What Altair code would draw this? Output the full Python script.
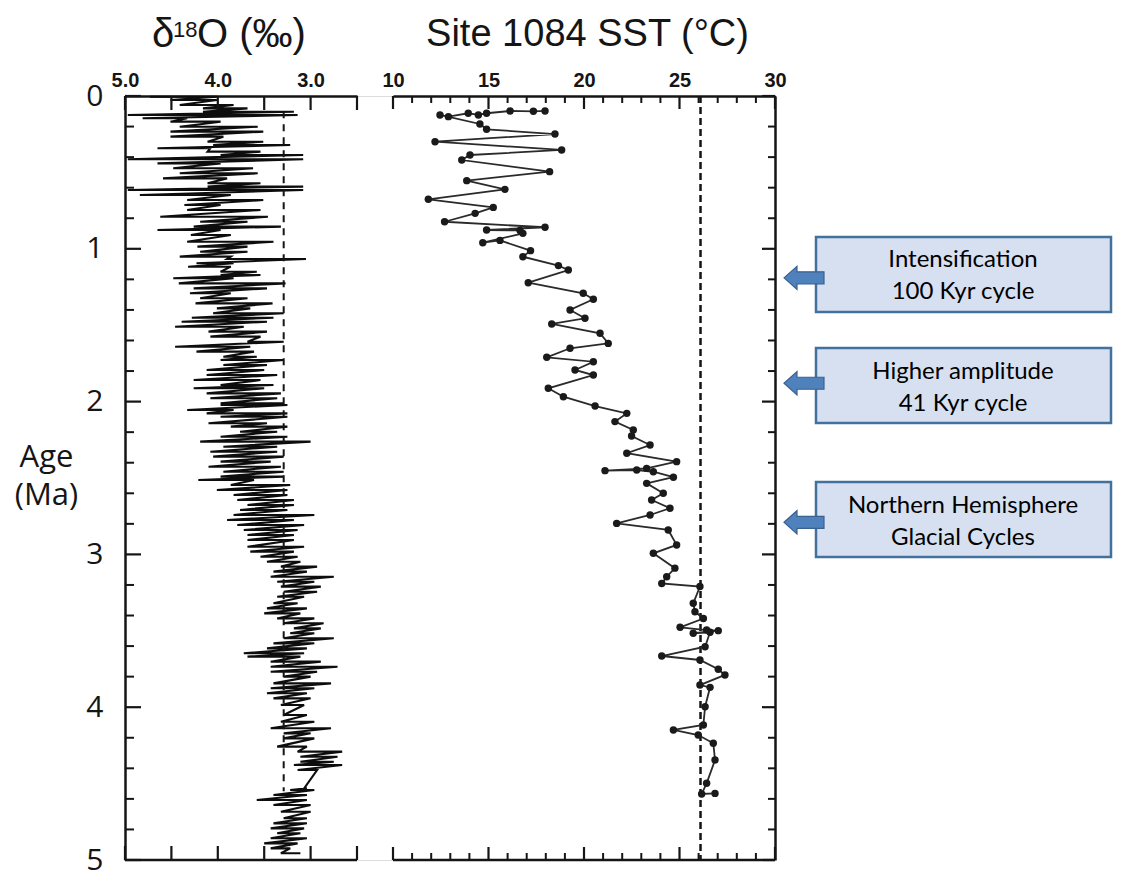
import altair as alt
import pandas as pd

# ---------------- data ----------------
# benthic d18O: each row = age (Ma) with heavy (left) and light (right) excursion
d18o_age = [0.005, 0.026, 0.059, 0.081, 0.103, 0.124, 0.146, 0.168, 0.201, 0.233,
            0.266, 0.299, 0.321, 0.342, 0.364, 0.386, 0.414, 0.441, 0.473, 0.506,
            0.539, 0.571, 0.593, 0.615, 0.648, 0.681, 0.713, 0.746, 0.790, 0.823,
            0.855, 0.877, 0.910, 0.954, 0.986,
            1.019, 1.051, 1.067, 1.095, 1.117, 1.150, 1.171, 1.193, 1.226, 1.259,
            1.291, 1.324, 1.357, 1.390, 1.422, 1.451, 1.477, 1.510, 1.542, 1.575,
            1.608, 1.641, 1.673, 1.706, 1.728, 1.760, 1.793, 1.826, 1.859, 1.891,
            1.913, 1.946, 1.978, 2.011,
            2.022, 2.055, 2.077, 2.099, 2.142, 2.164, 2.197, 2.230, 2.262, 2.295,
            2.328, 2.360, 2.393, 2.426, 2.459, 2.491, 2.513, 2.546, 2.579, 2.611,
            2.644, 2.677, 2.709, 2.742, 2.775, 2.808, 2.840, 2.873, 2.906, 2.950,
            2.982, 3.015,
            3.048, 3.080, 3.113, 3.146, 3.179, 3.211, 3.244, 3.277, 3.320, 3.353,
            3.386, 3.419, 3.451, 3.484, 3.516, 3.549, 3.582, 3.615, 3.647, 3.669,
            3.702, 3.735, 3.768, 3.800, 3.844, 3.876, 3.909, 3.942, 3.986,
            4.051, 4.095, 4.138, 4.171, 4.204, 4.258, 4.291, 4.324, 4.357, 4.378,
            4.411, 4.531, 4.542, 4.575, 4.607, 4.640, 4.684, 4.727, 4.760, 4.793,
            4.825, 4.858, 4.891, 4.924, 4.956]
d18o_heavy = [4.73, 4.51, 4.41, 4.16, 4.16, 4.97, 4.81, 4.51, 4.41, 4.51,
              4.51, 4.11, 4.05, 4.65, 4.11, 3.97, 4.97, 4.65, 4.48, 4.41,
              4.59, 4.11, 4.11, 4.97, 4.84, 4.33, 4.36, 4.33, 4.62, 4.19,
              4.26, 4.65, 4.29, 4.33, 4.22,
              4.19, 4.41, 3.90, 4.23, 4.32, 3.97, 3.97, 4.48, 4.42, 4.26,
              4.30, 4.19, 4.24, 4.01, 4.05, 4.28, 4.39, 4.46, 4.10, 4.08,
              3.68, 4.46, 4.23, 3.94, 3.97, 3.94, 4.12, 4.12, 4.26, 3.97,
              4.26, 4.12, 4.08, 3.97,
              3.97, 4.33, 4.12, 3.97, 4.10, 3.86, 3.76, 3.97, 4.19, 3.94,
              4.08, 4.05, 3.97, 4.10, 3.94, 3.97, 4.21, 3.86, 4.01, 3.83,
              3.79, 3.68, 3.76, 3.83, 3.90, 3.79, 3.72, 3.68, 3.68, 3.68,
              3.65, 3.54,
              3.47, 3.32, 3.40, 3.43, 3.36, 3.32, 3.29, 3.36, 3.40, 3.47,
              3.50, 3.36, 3.29, 3.18, 3.22, 3.29, 3.40, 3.47, 3.72, 3.68,
              3.43, 3.43, 3.43, 3.29, 3.40, 3.43, 3.47, 3.40, 3.32,
              3.29, 3.32, 3.43, 3.29, 3.29, 3.36, 3.14, 3.11, 3.11, 3.18,
              3.14, 3.07, 3.22, 3.40, 3.58, 3.40, 3.32, 3.29, 3.40, 3.43,
              3.36, 3.43, 3.50, 3.43, 3.32]
d18o_light = [4.01, 4.01, 3.83, 3.68, 3.18, 3.14, 4.33, 3.97, 3.57, 3.51,
              3.94, 3.51, 3.22, 4.08, 3.54, 3.08, 3.08, 3.97, 3.62, 3.57,
              3.90, 3.54, 3.08, 3.08, 3.86, 3.51, 3.97, 3.54, 3.46, 3.68,
              3.32, 3.97, 3.86, 3.40, 3.68,
              3.68, 3.86, 3.05, 3.83, 3.86, 3.58, 3.54, 3.83, 3.27, 3.47,
              3.86, 3.68, 3.41, 3.65, 3.29, 3.40, 3.47, 3.72, 3.47, 3.54,
              3.29, 3.65, 3.61, 3.58, 3.29, 3.47, 3.50, 3.36, 3.54, 3.40,
              3.50, 3.32, 3.36, 3.29,
              3.25, 3.83, 3.25, 3.25, 3.47, 3.25, 3.36, 3.25, 3.00, 3.36,
              3.36, 3.29, 3.43, 3.32, 3.29, 3.29, 3.61, 3.22, 3.25, 3.25,
              3.18, 3.18, 3.25, 2.96, 3.18, 3.07, 3.14, 3.18, 3.18, 3.07,
              3.18, 3.14,
              3.11, 2.93, 3.04, 2.75, 2.96, 2.89, 2.93, 3.07, 3.14, 3.04,
              3.11, 2.96, 2.86, 2.89, 2.96, 2.75, 2.96, 3.04, 3.07, 3.11,
              2.89, 2.71, 2.93, 3.00, 2.78, 2.96, 3.04, 3.00, 3.07,
              3.04, 2.96, 2.78, 3.00, 2.96, 3.04, 2.66, 2.71, 2.75, 2.66,
              2.93, 3.04, 2.96, 3.04, 3.04, 3.00, 3.00, 3.04, 3.04, 3.07,
              3.11, 3.04, 3.14, 3.22, 3.11]

# Site 1084 alkenone SST, in path order
sst_age = [0.098, 0.100, 0.098, 0.113, 0.124, 0.113, 0.135, 0.124, 0.183, 0.218,
           0.249, 0.299, 0.353, 0.386, 0.419, 0.495, 0.554, 0.611, 0.676, 0.729,
           0.768, 0.823, 0.859, 0.877, 0.880, 0.899, 0.960, 0.945, 1.012, 1.052,
           1.110, 1.139, 1.222, 1.291, 1.330, 1.400, 1.455, 1.492, 1.553, 1.619,
           1.651, 1.710, 1.739, 1.793, 1.826, 1.913, 1.968, 2.029, 2.077, 2.131,
           2.186, 2.225, 2.284, 2.338, 2.393, 2.437, 2.452, 2.448, 2.459, 2.495,
           2.535, 2.600, 2.644, 2.698, 2.742, 2.797, 2.840, 2.938, 2.993, 3.090,
           3.146, 3.190, 3.210, 3.320, 3.375, 3.420, 3.477, 3.495, 3.499, 3.516,
           3.510, 3.604, 3.665, 3.691, 3.752, 3.789, 3.855, 3.870, 3.997, 4.116,
           4.149, 4.182, 4.236, 4.346, 4.498, 4.568, 4.564]
sst_val = [17.96, 17.35, 16.13, 14.90, 14.47, 13.94, 12.90, 12.46, 14.55, 14.90,
           18.48, 12.20, 18.83, 14.03, 13.60, 18.20, 13.86, 15.86, 11.85, 15.25,
           14.30, 12.70, 17.96, 14.90, 16.65, 16.80, 14.70, 15.60, 17.20, 16.80,
           18.66, 19.18, 17.08, 19.96, 20.49, 19.27, 20.05, 18.31, 20.84, 21.27,
           19.27, 18.05, 20.49, 19.53, 20.49, 18.13, 18.92, 20.58, 22.24, 21.62,
           22.58, 22.49, 23.46, 22.24, 24.85, 23.28, 21.10, 22.76, 23.63, 24.68,
           23.28, 24.15, 23.54, 24.50, 23.46, 21.71, 24.41, 24.85, 23.63, 24.76,
           24.33, 24.07, 26.07, 25.72, 25.81, 26.25, 25.03, 26.42, 27.03, 25.72,
           26.60, 26.34, 24.07, 26.07, 27.03, 27.38, 26.07, 26.60, 26.34, 26.25,
           24.68, 25.98, 26.77, 26.86, 26.42, 26.16, 26.86]

d18o_ref = 3.29          # dashed reference line, left panel
d18o_ref_ages = [0.10, 4.55]
sst_ref = 26.1           # dashed reference line, right panel
sst_ref_ages = [0.0, 5.0]

# axis ticks / labels
d18o_ticks = [5.0, 4.5, 4.0, 3.5, 3.0, 2.5]
d18o_labels = [5.0, 4.0, 3.0]
sst_minor = [11, 12, 13, 14, 16, 17, 18, 19, 21, 22, 23, 24, 26, 27, 28, 29]
sst_major = [10, 15, 20, 25, 30]
age_major = [0, 1, 2, 3, 4, 5]
age_minor = [0.2, 0.4, 0.6, 0.8, 1.2, 1.4, 1.6, 1.8, 2.2, 2.4, 2.6, 2.8,
             3.2, 3.4, 3.6, 3.8, 4.2, 4.4, 4.6, 4.8]

# left panel title pieces (delta, superscript 18, rest)
title_parts = ["δ", "18", "O (‰)"]

# annotation boxes
ann_text = ["Intensification\n100 Kyr cycle",
            "Higher amplitude\n41 Kyr cycle",
            "Northern Hemisphere\nGlacial Cycles"]
ann_arrow_age = [1.19, 1.88, 2.79]
ann_top = [0.923, 1.649, 2.526]
ann_bottom = [1.414, 2.140, 3.017]
ann_mid = [1.168, 1.895, 2.772]

# ---------------- tables ----------------
rows = []
for i, (a, h, l) in enumerate(zip(d18o_age, d18o_heavy, d18o_light)):
    rows.append({"age": a, "val": h, "idx": 2 * i})
    rows.append({"age": a, "val": l, "idx": 2 * i + 1})
d18o_df = pd.DataFrame(rows)
sst_df = pd.DataFrame({"age": sst_age, "val": sst_val, "idx": list(range(len(sst_age)))})
ann_df = pd.DataFrame({"label": ann_text, "age": ann_arrow_age, "top": ann_top,
                       "bottom": ann_bottom, "mid": ann_mid})

W, H = 650, 764
INK = "#151515"
AXFONT = "Liberation Sans"

yscale = alt.Scale(domain=[0, 5], reverse=True, nice=False, zero=False)
lx_scale = alt.Scale(domain=[5.0, 2.5], range=[0, 232], nice=False, zero=False)
rx_scale = alt.Scale(domain=[10, 30], range=[268, 650], nice=False, zero=False)

lx_axis = alt.Axis(orient="top", values=d18o_labels, format=".1f", ticks=False, tickSize=0,
                   domain=True, domainColor=INK, domainWidth=2.5, grid=False,
                   labelFont=AXFONT, labelFontSize=20, labelFontWeight="bold",
                   labelColor=INK, labelPadding=6, labelFlush=False, title="")
ly_axis = alt.Axis(orient="left", values=age_major, format="d", ticks=False, tickSize=0,
                   domain=True, domainColor=INK, domainWidth=2.5, grid=False,
                   labelFont="Open Sans", labelFontSize=30, labelColor=INK,
                   labelPadding=22, labelFlush=False,
                   title=["Age", "(Ma)"], titleFont="Open Sans", titleFontSize=31,
                   titleFontWeight="normal", titleColor=INK, titleAngle=0,
                   titleAlign="center", titleBaseline="alphabetic",
                   titleX=-79, titleY=370, titleLineHeight=38)
rx_axis = alt.Axis(orient="top", values=sst_major, format="d", ticks=False, tickSize=0,
                   domain=True, domainColor=INK, domainWidth=2.5, grid=False,
                   labelFont=AXFONT, labelFontSize=20, labelFontWeight="bold",
                   labelColor=INK, labelPadding=6, labelFlush=False,
                   title="Site 1084 SST (°C)", titleFont=AXFONT, titleFontSize=38,
                   titleFontWeight="normal", titleColor=INK, titleX=462, titleY=-51,
                   titleBaseline="alphabetic", titleAlign="center")
ry_axis = alt.Axis(orient="right", labels=False, ticks=False, tickSize=0,
                   domain=True, domainColor=INK, domainWidth=2.5, grid=False, title="")


def LX(field):
    return alt.X(field, type="quantitative", scale=lx_scale, axis=lx_axis)


def RX(field):
    return alt.X(field, type="quantitative", scale=rx_scale, axis=rx_axis)


def LY(field):
    return alt.Y(field, type="quantitative", scale=yscale, axis=ly_axis)


def RY(field):
    return alt.Y(field, type="quantitative", scale=yscale, axis=ry_axis)


# ---------------- left panel ----------------
d18o_line = alt.Chart(d18o_df).mark_line(color="#0d0d0d", strokeWidth=2.1).encode(
    x=LX("val"), y=LY("age"), order="idx:Q")

lref_df = pd.DataFrame({"val": [d18o_ref], "a0": [d18o_ref_ages[0]], "a1": [d18o_ref_ages[1]]})
l_ref = alt.Chart(lref_df).mark_rule(color=INK, strokeWidth=2, strokeDash=[7, 6]).encode(
    x=LX("val"), y=LY("a0"), y2="a1")

lframe_df = pd.DataFrame({"v0": [5.0], "v1": [2.5], "age": [5.0]})
l_bottom = alt.Chart(lframe_df).mark_rule(color=INK, strokeWidth=2.5).encode(
    x=LX("v0"), x2="v1", y=LY("age"))

ltick_df = pd.DataFrame({"val": d18o_ticks})
l_top_ticks = alt.Chart(ltick_df).mark_rule(color=INK, strokeWidth=2.2).encode(
    x=LX("val"), y=alt.value(0), y2=alt.value(14))
l_bot_ticks = alt.Chart(ltick_df).mark_rule(color=INK, strokeWidth=2.2).encode(
    x=LX("val"), y=alt.value(H - 14), y2=alt.value(H))

l_minor = alt.Chart(pd.DataFrame({"age": age_minor})).mark_rule(color=INK, strokeWidth=2).encode(
    y=LY("age"), x=alt.value(0), x2=alt.value(9))
l_major = alt.Chart(pd.DataFrame({"age": age_major})).mark_rule(color=INK, strokeWidth=2.2).encode(
    y=LY("age"), x=alt.value(0), x2=alt.value(16))

# title "δ18O (‰)" with a raised, smaller "18"
t1 = alt.Chart(pd.DataFrame({"t": [title_parts[0]]})).mark_text(
    font=AXFONT, fontSize=40, align="left", baseline="alphabetic", color=INK).encode(
    text="t:N", x=alt.value(27), y=alt.value(-49))
t2 = alt.Chart(pd.DataFrame({"t": [title_parts[1]]})).mark_text(
    font=AXFONT, fontSize=22, align="left", baseline="alphabetic", color=INK).encode(
    text="t:N", x=alt.value(48), y=alt.value(-59))
t3 = alt.Chart(pd.DataFrame({"t": [title_parts[2]]})).mark_text(
    font=AXFONT, fontSize=40, align="left", baseline="alphabetic", color=INK).encode(
    text="t:N", x=alt.value(72), y=alt.value(-49))

left = alt.layer(d18o_line, l_ref, l_bottom, l_top_ticks, l_bot_ticks, l_minor, l_major,
                 t1, t2, t3)

# ---------------- right panel ----------------
sst_line = alt.Chart(sst_df).mark_line(color="#2a2a2a", strokeWidth=1.8).encode(
    x=RX("val"), y=RY("age"), order="idx:Q")
sst_pts = alt.Chart(sst_df).mark_circle(color="#1a1a1a", size=55, opacity=1).encode(
    x=RX("val"), y=RY("age"))

rref_df = pd.DataFrame({"val": [sst_ref], "a0": [sst_ref_ages[0]], "a1": [sst_ref_ages[1]]})
r_ref = alt.Chart(rref_df).mark_rule(color=INK, strokeWidth=2.5, strokeDash=[7, 4]).encode(
    x=RX("val"), y=RY("a0"), y2="a1")

rframe_df = pd.DataFrame({"v0": [10], "v1": [30], "age": [5.0]})
r_bottom = alt.Chart(rframe_df).mark_rule(color=INK, strokeWidth=2.5).encode(
    x=RX("v0"), x2="v1", y=RY("age"))

rmin_df = pd.DataFrame({"val": sst_minor})
rmaj_df = pd.DataFrame({"val": sst_major})
r_top_min = alt.Chart(rmin_df).mark_rule(color=INK, strokeWidth=2).encode(
    x=RX("val"), y=alt.value(0), y2=alt.value(7))
r_top_maj = alt.Chart(rmaj_df).mark_rule(color=INK, strokeWidth=2.2).encode(
    x=RX("val"), y=alt.value(0), y2=alt.value(13))
r_bot_min = alt.Chart(rmin_df).mark_rule(color=INK, strokeWidth=2).encode(
    x=RX("val"), y=alt.value(H - 7), y2=alt.value(H))
r_bot_maj = alt.Chart(rmaj_df).mark_rule(color=INK, strokeWidth=2.2).encode(
    x=RX("val"), y=alt.value(H - 13), y2=alt.value(H))

r_minor = alt.Chart(pd.DataFrame({"age": age_minor})).mark_rule(color=INK, strokeWidth=2).encode(
    y=RY("age"), x=alt.value(W - 7), x2=alt.value(W))
r_major = alt.Chart(pd.DataFrame({"age": age_major})).mark_rule(color=INK, strokeWidth=2.2).encode(
    y=RY("age"), x=alt.value(W - 13), x2=alt.value(W))

# annotations (to the right of the SST panel)
boxes = alt.Chart(ann_df).mark_rect(fill="#D6E0F0", stroke="#41719C", strokeWidth=2.5).encode(
    x=alt.value(691), x2=alt.value(986), y=RY("top"), y2="bottom")
texts = alt.Chart(ann_df).mark_text(font="Lato", fontSize=24, lineBreak="\n", lineHeight=32,
                                    align="center", baseline="middle", dy=-14,
                                    color="#000000").encode(
    x=alt.value(838), y=RY("mid"), text="label:N")
arrow_path = "M -1 0 L -0.35 -0.58 L -0.35 -0.3 L 1 -0.3 L 1 0.3 L -0.35 0.3 L -0.35 0.58 Z"
arrows = alt.Chart(ann_df).mark_point(shape=arrow_path, filled=True, size=1600, fill="#4F81BD",
                                      stroke="#3A6190", strokeWidth=1.2, opacity=1).encode(
    x=alt.value(679), y=RY("age"))

right = alt.layer(r_ref, sst_line, sst_pts, r_bottom, r_top_min, r_top_maj, r_bot_min,
                  r_bot_maj, r_minor, r_major, boxes, arrows, texts)

chart = alt.layer(left, right).resolve_scale(x="independent", y="independent").properties(
    width=W, height=H,
    padding={"left": 117, "top": 88, "right": 338, "bottom": 12},
    autosize=alt.AutoSizeParams(type="none"),
).configure_view(stroke="transparent").configure(background="white")

chart.save("out.html", embed_options={"renderer": "svg", "actions": False})
